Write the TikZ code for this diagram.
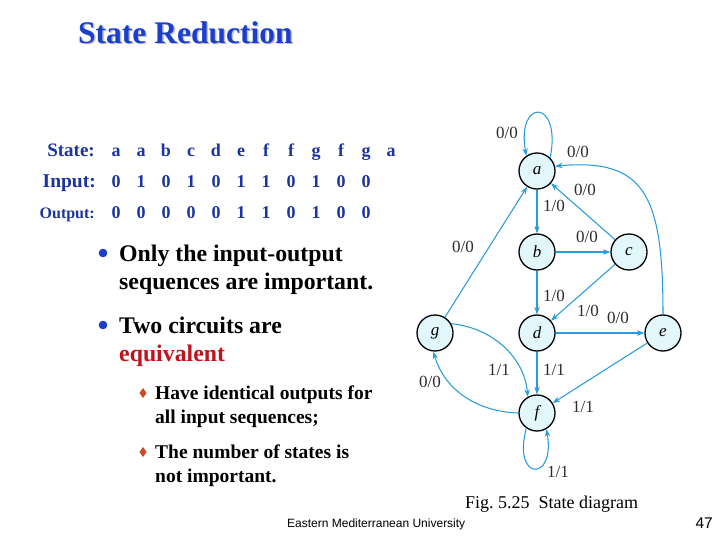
\documentclass[tikz,border=0pt]{standalone}
\usepackage{fontspec}
\setmainfont{Liberation Serif}
\newfontfamily\arialfont{Liberation Sans}
\usetikzlibrary{arrows.meta}
\definecolor{titleblue}{RGB}{28,62,205}
\definecolor{tabblue}{RGB}{28,52,160}
\definecolor{bulblue}{RGB}{30,60,200}
\definecolor{eqred}{RGB}{190,20,30}
\definecolor{subred}{RGB}{205,75,35}
\definecolor{edgeblue}{RGB}{40,155,220}
\definecolor{nodefill}{RGB}{226,247,252}
\definecolor{lblgray}{RGB}{45,45,45}
\tikzset{
  st/.style={circle,draw=black,line width=1.3pt,fill=nodefill,minimum size=36pt,inner sep=0pt,font=\fontsize{17}{18}\selectfont\itshape},
  edge/.style={draw=edgeblue,line width=1.05pt,-{Stealth[length=7.5pt,width=5.5pt]}},
  elbl/.style={text=lblgray,font=\fontsize{17}{19}\selectfont,inner sep=0pt},
  tabhead/.style={anchor=base east,text=tabblue,inner sep=0pt},
  tabcell/.style={anchor=base,text=tabblue,inner sep=0pt},
  btext/.style={anchor=base west,inner sep=0pt,align=left,font=\fontsize{23.8}{27.5}\selectfont\bfseries},
  stext/.style={anchor=base west,inner sep=0pt,align=left,font=\fontsize{19.5}{24}\selectfont\bfseries},
}
\begin{document}
\begin{tikzpicture}[x=1pt,y=-1pt]
\useasboundingbox[fill=white] (0,0) rectangle (720,540);
% title
\node[anchor=base west,inner sep=0pt,text=black!25,font=\fontsize{31.5}{34}\selectfont\bfseries] (tshadow) at (79.5,44.8) {State Reduction};
\node[anchor=base west,inner sep=0pt,text=titleblue,font=\fontsize{31.5}{34}\selectfont\bfseries] (title) at (78,43.3) {State Reduction};
% table
\node[tabhead,font=\fontsize{19}{22}\selectfont\bfseries] (hstate) at (95,157) {State:};
\node[tabhead,font=\fontsize{19.5}{22}\selectfont\bfseries] (hinput) at (96,188) {Input:};
\node[tabhead,font=\fontsize{16}{20}\selectfont\bfseries] (houtput) at (95,218.5) {Output:};
\foreach \s [count=\i from 0] in {a,a,b,c,d,e,f,f,g,f,g,a}{
  \node[tabcell,font=\fontsize{18}{22}\selectfont\bfseries] (s\i) at (116+25*\i,157) {\s};
}
\foreach \s [count=\i from 0] in {0,1,0,1,0,1,1,0,1,0,0}{
  \node[tabcell,font=\fontsize{18}{22}\selectfont\bfseries] (in\i) at (116+25*\i,188) {\s};
}
\foreach \s [count=\i from 0] in {0,0,0,0,0,1,1,0,1,0,0}{
  \node[tabcell,font=\fontsize{18}{22}\selectfont\bfseries] (out\i) at (116+25*\i,218.5) {\s};
}
% bullets
\fill[bulblue] (103,253) circle (4.3);
\node[btext] (b1) at (119,289) {Only the input-output\\sequences are important.};
\fill[bulblue] (103,325) circle (4.3);
\node[btext] (b2) at (119,361) {Two circuits are\\\textcolor{eqred}{equivalent}};
\fill[subred] (143,388) -- (146.5,393) -- (143,398) -- (139.5,393) -- cycle;
\node[stext] (s1) at (155,423) {Have identical outputs for\\all input sequences;};
\fill[subred] (143,447) -- (146.5,452) -- (143,457) -- (139.5,452) -- cycle;
\node[stext] (s2) at (155,482) {The number of states is\\not important.};
% caption and footer
\node[anchor=base west,inner sep=0pt,font=\fontsize{18}{20}\selectfont] (cap) at (465,508) {Fig.~5.25\ \ State diagram};
\node[anchor=base west,inner sep=0pt,font=\arialfont\fontsize{12}{14}\selectfont] (univ) at (287,527) {Eastern Mediterranean University};
\node[anchor=base east,inner sep=0pt,font=\arialfont\fontsize{15.5}{18}\selectfont] (page) at (713,528) {47};
% state diagram
\node[st] (a) at (537,171) {a};
\node[st] (b) at (537,252) {b};
\node[st] (c) at (629,252) {c};
\node[st] (d) at (537,333) {d};
\node[st] (e) at (663,333) {e};
\node[st] (g) at (435,333) {g};
\node[st] (f) at (537,413) {f};
\draw[edge] (a.45) .. controls (562,98) and (516,98) .. (a.125);
\draw[edge] (a) -- (b);
\draw[edge] (b) -- (c);
\draw[edge] (c) -- (a);
\draw[edge] (b) -- (d);
\draw[edge] (c) -- (d);
\draw[edge] (d) -- (e);
\draw[edge] (d) -- (f);
\draw[edge] (e) -- (f);
\draw[edge] (g) -- (a);
\draw[edge] (e.north) .. controls (663,195) and (645,158) .. (a.15);
\draw[edge] (g.30) .. controls (495,328) and (525,360) .. (f.120);
\draw[edge] (f.180) .. controls (480,412) and (445,392) .. (g.265);
\draw[edge] (f.235) .. controls (512,482) and (556,482) .. (f.300);
% edge labels
\node[elbl] (laa) at (507,133) {0/0};
\node[elbl] (lea) at (578,152) {0/0};
\node[elbl] (lca) at (585,190) {0/0};
\node[elbl] (lab) at (554,206) {1/0};
\node[elbl] (lbc) at (587,237) {0/0};
\node[elbl] (lga) at (463,247) {0/0};
\node[elbl] (lbd) at (554,296) {1/0};
\node[elbl] (lcd) at (588,311) {1/0};
\node[elbl] (lde) at (618,318) {0/0};
\node[elbl] (ldf) at (554,370) {1/1};
\node[elbl] (lgf) at (499,370) {1/1};
\node[elbl] (lfg) at (430,382) {0/0};
\node[elbl] (lef) at (583,407) {1/1};
\node[elbl] (lff) at (558,472) {1/1};
\end{tikzpicture}
\end{document}
